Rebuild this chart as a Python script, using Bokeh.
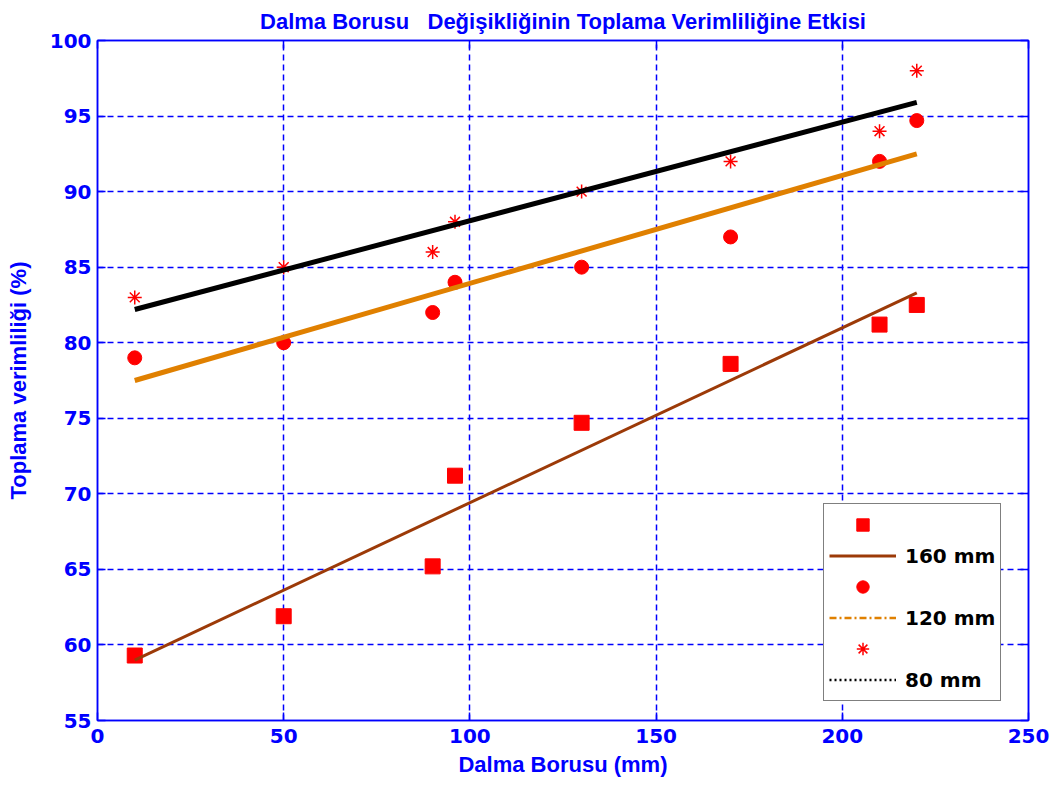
from bokeh.plotting import figure
from bokeh.models import (Range1d, LinearAxis, FixedTicker, Legend, LegendItem,
                          CustomJSTickFormatter)
from bokeh.embed import file_html
from bokeh.resources import INLINE

# ---- data ----
x_mm = [10, 50, 90, 96, 130, 170, 210, 220]
eff_160 = [59.3, 61.9, 65.2, 71.2, 74.7, 78.6, 81.2, 82.5]
eff_120 = [79.0, 80.0, 82.0, 84.0, 85.0, 87.0, 92.0, 94.7]
eff_80 = [83.0, 85.0, 86.0, 88.0, 90.0, 92.0, 94.0, 98.0]

fit_x = [10, 220]
fit_160 = [59.0, 83.3]
fit_120 = [77.5, 92.5]
fit_80 = [82.2, 95.9]

x_ticks = [0, 50, 100, 150, 200, 250]
y_ticks = [55, 60, 65, 70, 75, 80, 85, 90, 95, 100]
labels = ["160 mm", "120 mm", "80 mm"]

BLUE = "#0000FF"
RED = "#FF0000"
BROWN = "#9C3A08"
ORANGE = "#E08000"

p = figure(width=1050, height=779, x_range=Range1d(0, 250), y_range=Range1d(55, 100),
           output_backend="svg", toolbar_location=None,
           min_border_left=97, min_border_right=22, min_border_top=40, min_border_bottom=58,
           title="Dalma Borusu \u00a0 De\u011fi\u015fikli\u011finin Toplama Verimlili\u011fine Etkisi",
           x_axis_label="Dalma Borusu (mm)", y_axis_label="Toplama verimlili\u011fi (%)")
p.background_fill_color = "white"
p.border_fill_color = "white"
p.outline_line_color = BLUE
p.outline_line_width = 1.5

p.title.align = "center"
p.title.text_color = BLUE
p.title.text_font = "Liberation Sans"
p.title.text_font_style = "bold"
p.title.text_font_size = "22px"
p.title.standoff = 13
p.title.offset = 0

p.xaxis.ticker = FixedTicker(ticks=x_ticks)
p.yaxis.ticker = FixedTicker(ticks=y_ticks)

def style_axis(ax):
    ax.axis_line_color = BLUE
    ax.axis_line_width = 1.5
    ax.major_tick_line_color = BLUE
    ax.major_tick_line_width = 1.5
    ax.major_tick_in = 8
    ax.major_tick_out = 0
    ax.minor_tick_line_color = None
    ax.major_label_text_color = BLUE
    ax.major_label_text_font = "DejaVu Sans"
    ax.major_label_text_font_style = "bold"
    ax.major_label_text_font_size = "20px"
    ax.axis_label_text_color = BLUE
    ax.axis_label_text_font = "Liberation Sans"
    ax.axis_label_text_font_style = "bold"

for ax in p.xaxis + p.yaxis:
    style_axis(ax)
p.xaxis.major_label_standoff = 8
p.yaxis.major_label_standoff = 6
p.xaxis.axis_label_text_font_size = "22px"
p.yaxis.axis_label_text_font_size = "22px"
p.xaxis.axis_label_standoff = 6
p.yaxis.axis_label_standoff = 16

# inward ticks on top and right (box on)
blank = CustomJSTickFormatter(code="return ''")
top_ax = LinearAxis(ticker=FixedTicker(ticks=x_ticks), formatter=blank)
right_ax = LinearAxis(ticker=FixedTicker(ticks=y_ticks), formatter=blank)
for ax in (top_ax, right_ax):
    style_axis(ax)
    ax.major_label_text_font_size = "1px"
    ax.major_label_standoff = 0
p.add_layout(top_ax, "above")
p.add_layout(right_ax, "right")

p.grid.grid_line_color = BLUE
p.grid.grid_line_dash = "6 4"
p.grid.grid_line_width = 1.5
p.xgrid.ticker = FixedTicker(ticks=x_ticks)
p.ygrid.ticker = FixedTicker(ticks=y_ticks)

# markers
r_sq = p.scatter(x_mm, eff_160, marker="square", size=15, color=RED)
r_ci = p.scatter(x_mm, eff_120, marker="circle", size=14, color=RED)
r_st = p.scatter(x_mm, eff_80, marker="asterisk", size=14, line_color=RED, line_width=1.5)

# fitted lines
p.line(fit_x, fit_160, line_color=BROWN, line_width=3)
p.line(fit_x, fit_120, line_color=ORANGE, line_width=5)
p.line(fit_x, fit_80, line_color="black", line_width=5)

# legend proxies (line styles as shown in the legend)
nan = float("nan")
l160 = p.line([nan], [nan], line_color=BROWN, line_width=3)
l120 = p.line([nan], [nan], line_color=ORANGE, line_width=2.5, line_dash="7 3 2 3")
l80 = p.line([nan], [nan], line_color="black", line_width=2.5, line_dash="2 3")

legend = Legend(items=[
    LegendItem(label=" ", renderers=[r_sq]),
    LegendItem(label=labels[0], renderers=[l160]),
    LegendItem(label=" ", renderers=[r_ci]),
    LegendItem(label=labels[1], renderers=[l120]),
    LegendItem(label=" ", renderers=[r_st]),
    LegendItem(label=labels[2], renderers=[l80]),
], location=(726, 19))
legend.border_line_color = "black"
legend.border_line_width = 1.5
legend.background_fill_color = "white"
legend.background_fill_alpha = 1
legend.label_text_font = "DejaVu Sans"
legend.label_text_font_style = "bold"
legend.label_text_font_size = "20px"
legend.label_text_color = "black"
legend.glyph_width = 67
legend.glyph_height = 31
legend.label_height = 24
legend.label_standoff = 9
legend.spacing = 0
legend.padding = 5
legend.margin = 0
p.add_layout(legend)

open("out.html", "w").write(file_html(p, INLINE))
